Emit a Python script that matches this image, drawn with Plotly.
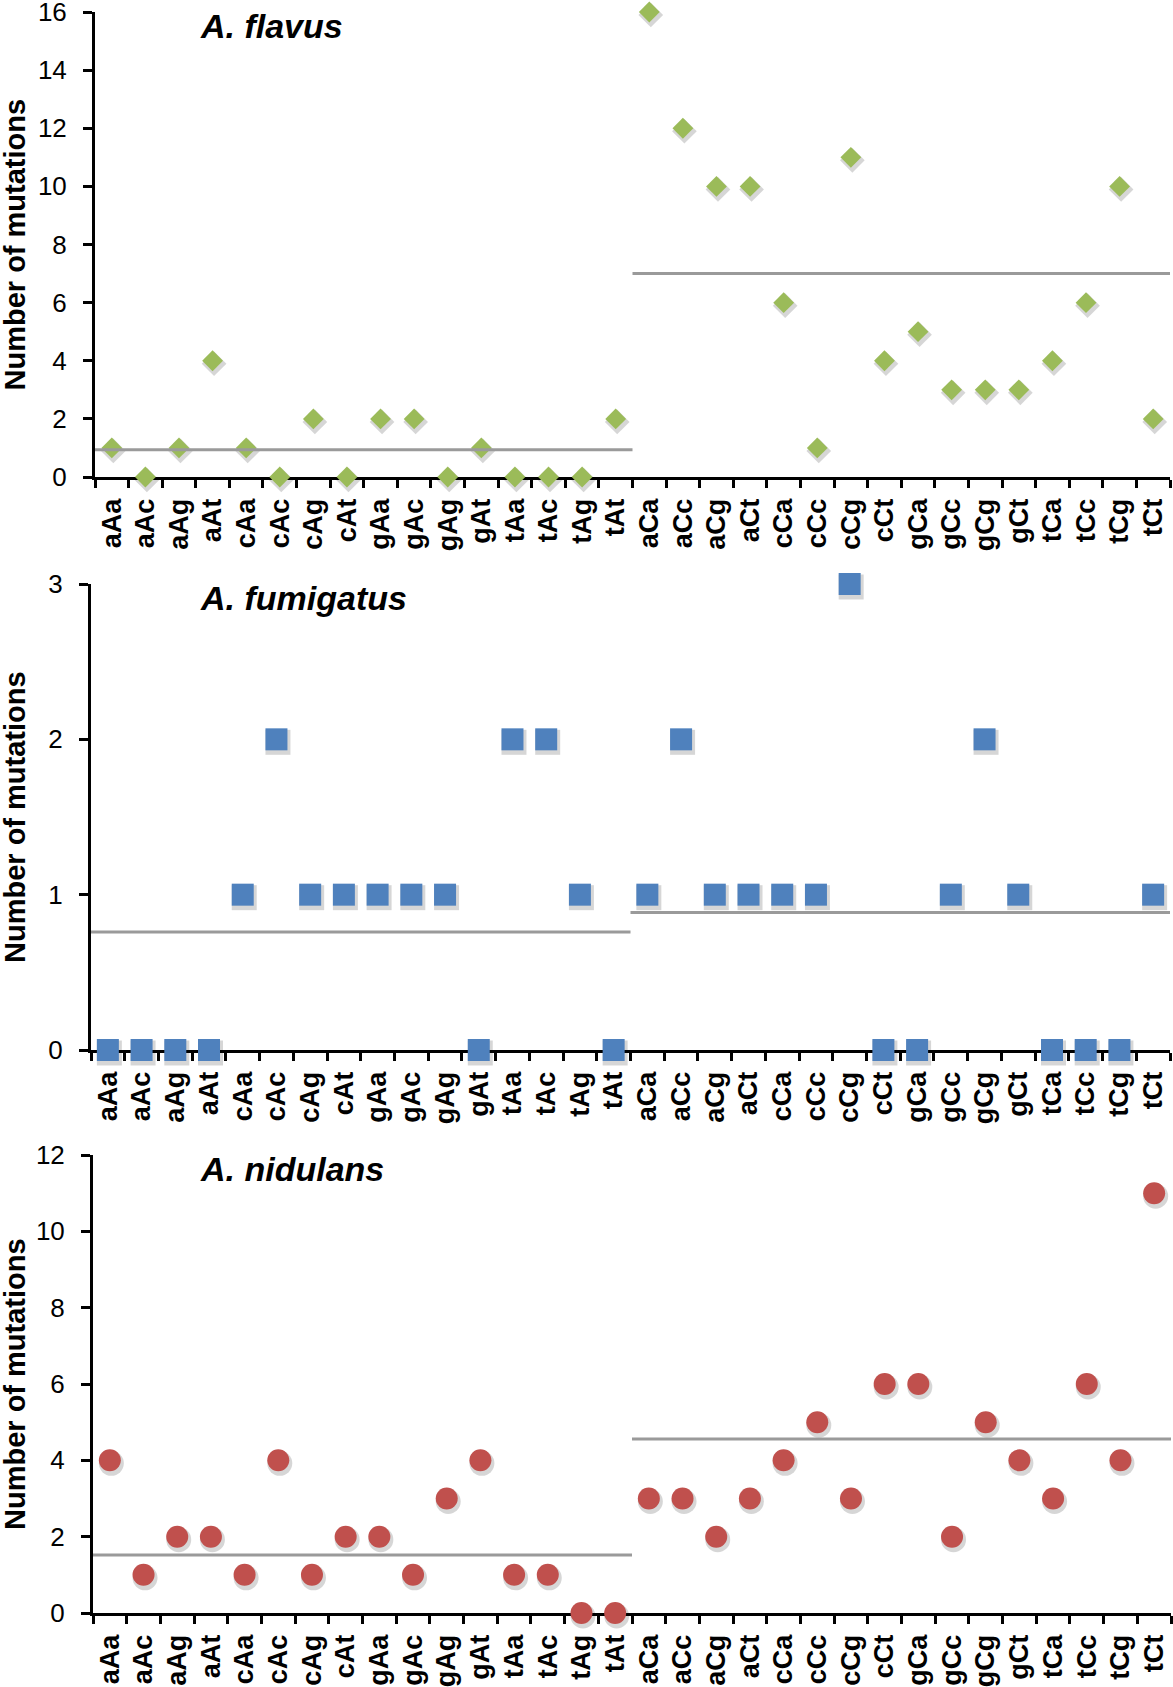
import plotly.graph_objects as go

# ---------------- data ----------------
categories = ["aAa", "aAc", "aAg", "aAt", "cAa", "cAc", "cAg", "cAt",
              "gAa", "gAc", "gAg", "gAt", "tAa", "tAc", "tAg", "tAt",
              "aCa", "aCc", "aCg", "aCt", "cCa", "cCc", "cCg", "cCt",
              "gCa", "gCc", "gCg", "gCt", "tCa", "tCc", "tCg", "tCt"]

flavus = [1, 0, 1, 4, 1, 0, 2, 0, 2, 2, 0, 1, 0, 0, 0, 2,
          16, 12, 10, 10, 6, 1, 11, 4, 5, 3, 3, 3, 4, 6, 10, 2]
fumigatus = [0, 0, 0, 0, 1, 2, 1, 1, 1, 1, 1, 0, 2, 2, 1, 0,
             1, 2, 1, 1, 1, 1, 3, 0, 0, 1, 2, 1, 0, 0, 0, 1]
nidulans = [4, 1, 2, 2, 1, 4, 1, 2, 2, 1, 3, 4, 1, 1, 0, 0,
            3, 3, 2, 3, 4, 5, 3, 6, 6, 2, 5, 4, 3, 6, 4, 11]

# average lines (A-centred half, C-centred half)
flavus_means = [0.94, 7.0]
fumigatus_means = [0.76, 0.885]
nidulans_means = [1.52, 4.56]

species = ["A. flavus", "A. fumigatus", "A. nidulans"]
y_title = "Number of mutations"

# ---------------- styling / layout ----------------
W, H = 1173, 1687
FONT = "Liberation Sans, Arial, Helvetica, sans-serif"

panels = [
    dict(title=species[0], values=flavus, means=flavus_means, color="#9BBB59",
         symbol="diamond", size=16, ymax=16, dtick=2,
         left=95, right=1170, top=12, bottom=477, title_y=26),
    dict(title=species[1], values=fumigatus, means=fumigatus_means, color="#4F81BD",
         symbol="square", size=22, ymax=3, dtick=1,
         left=91, right=1170, top=584, bottom=1050, title_y=598),
    dict(title=species[2], values=nidulans, means=nidulans_means, color="#C0504D",
         symbol="circle", size=22, ymax=12, dtick=2,
         left=93, right=1171, top=1155, bottom=1613, title_y=1169),
]

fig = go.Figure()
layout = dict(
    width=W, height=H,
    margin=dict(l=0, r=0, t=0, b=0, autoexpand=False),
    paper_bgcolor="white", plot_bgcolor="rgba(0,0,0,0)",
    showlegend=False,
    font=dict(family=FONT, color="black"),
    annotations=[], shapes=[],
)

SHADOW_DX, SHADOW_DY = 1.5, 3.0
half = len(categories) // 2

# shadow subplots first (axes 1-3, drawn underneath), visible subplots next (axes 4-6)
for i, p in enumerate(panels):
    sn = "" if i == 0 else str(i + 1)
    sxdom = [(p["left"] + SHADOW_DX) / W, (p["right"] + SHADOW_DX) / W]
    sydom = [1 - (p["bottom"] + SHADOW_DY) / H, 1 - (p["top"] + SHADOW_DY) / H]
    layout["xaxis" + sn] = dict(
        domain=sxdom, anchor="y" + sn, type="category",
        categoryorder="array", categoryarray=categories,
        range=[-0.5, len(categories) - 0.5], visible=False,
        fixedrange=True, automargin=False,
    )
    layout["yaxis" + sn] = dict(
        domain=sydom, anchor="x" + sn,
        range=[0, p["ymax"]], visible=False, fixedrange=True, automargin=False,
    )
    fig.add_trace(go.Scatter(
        x=categories, y=p["values"], mode="markers",
        xaxis="x" + sn, yaxis="y" + sn,
        marker=dict(symbol=p["symbol"], size=p["size"] + 3,
                    color="rgba(0,0,0,0.16)", line=dict(width=0)),
        cliponaxis=False, hoverinfo="skip",
    ))

for i, p in enumerate(panels):
    vn = str(i + 4)
    xdom = [p["left"] / W, p["right"] / W]
    ydom = [1 - p["bottom"] / H, 1 - p["top"] / H]

    layout["xaxis" + vn] = dict(
        domain=xdom, anchor="y" + vn, type="category",
        categoryorder="array", categoryarray=categories,
        range=[-0.5, len(categories) - 0.5],
        showline=True, linecolor="black", linewidth=3,
        ticks="outside", ticklen=8, tickwidth=3, tickcolor="black",
        tickson="boundaries", tickangle=-90,
        tickfont=dict(family=FONT, size=27, color="black", weight="bold"),
        ticklabelstandoff=8, ticklabeloverflow="allow",
        showgrid=False, zeroline=False, layer="below traces",
        fixedrange=True, automargin=False,
    )
    layout["yaxis" + vn] = dict(
        domain=ydom, anchor="x" + vn,
        range=[0, p["ymax"]], dtick=p["dtick"], tick0=0,
        showline=True, linecolor="black", linewidth=3,
        ticks="outside", ticklen=9, tickwidth=3, tickcolor="black",
        tickfont=dict(family=FONT, size=26, color="black"),
        ticklabelstandoff=11, ticklabeloverflow="allow",
        showgrid=False, zeroline=False, layer="below traces",
        fixedrange=True, automargin=False,
    )

    # data markers
    fig.add_trace(go.Scatter(
        x=categories, y=p["values"], mode="markers",
        xaxis="x" + vn, yaxis="y" + vn,
        marker=dict(symbol=p["symbol"], size=p["size"], color=p["color"],
                    line=dict(width=0)),
        cliponaxis=False, name=p["title"],
    ))

    # average lines spanning each half of the category axis (boundary to boundary)
    spans = [(-0.5, half - 0.5), (half - 0.5, len(categories) - 0.5)]
    for (x0, x1), m in zip(spans, p["means"]):
        layout["shapes"].append(dict(
            type="line", xref="x" + vn, yref="y" + vn,
            x0=x0, x1=x1, y0=m, y1=m,
            line=dict(color="#9A9A9A", width=3), layer="above",
        ))

    # species title
    layout["annotations"].append(dict(
        text="<b><i>" + p["title"] + "</i></b>", xref="paper", yref="paper",
        x=198 / W, y=1 - p["title_y"] / H, xanchor="left", yanchor="middle",
        showarrow=False, font=dict(family=FONT, size=34, color="black"),
    ))
    # y-axis title
    layout["annotations"].append(dict(
        text="<b>" + y_title + "</b>", xref="paper", yref="paper",
        x=15 / W, y=(ydom[0] + ydom[1]) / 2, xanchor="center", yanchor="middle",
        textangle=-90, showarrow=False,
        font=dict(family=FONT, size=29, color="black"),
    ))

fig.update_layout(**layout)
# remove the browser's default 8px body margin so the figure sits at the page origin
fig.write_html("out.html", config={"displayModeBar": False},
               post_script="document.body.style.margin='0';")
